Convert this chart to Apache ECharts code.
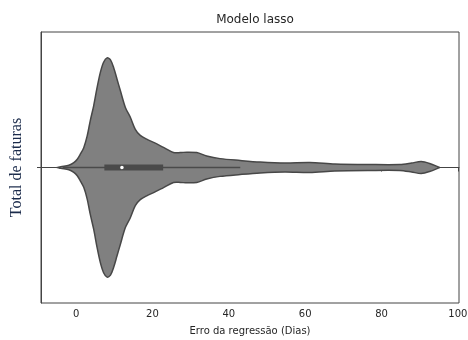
<!DOCTYPE html>
<html>
<head>
<meta charset="utf-8">
<script src="https://cdn.jsdelivr.net/npm/echarts@6/dist/echarts.min.js"></script>
<style>
  html, body { margin: 0; padding: 0; background: #fff; }
  #chart { width: 468px; height: 340px; }
</style>
</head>
<body>
<div id="chart"></div>
<script>
// violin outline: error value (days) and relative density (peak = 1)
const errValues = [-4.9, -4.0, -1.9, -0.6, 0.3, 1.1, 2.0, 2.9, 3.7, 4.6, 5.5, 6.35, 7.2, 8.1, 9.0,
  9.8, 10.7, 11.6, 12.9, 14.2, 15.5, 16.8, 18.6, 20.3, 22.9, 25.5, 27.3, 29.0, 31.6, 34.2, 37.7,
  43.0, 48.2, 54.7, 61.2, 67.8, 76.9, 84.8, 87.9, 90.4, 92.6, 95.2];
const density = [0, 0.008, 0.02, 0.044, 0.075, 0.121, 0.181, 0.288, 0.426, 0.563, 0.731, 0.868,
  0.96, 1.0, 0.982, 0.914, 0.808, 0.70, 0.548, 0.458, 0.348, 0.293, 0.256, 0.229, 0.183, 0.137,
  0.136, 0.14, 0.136, 0.105, 0.081, 0.064, 0.05, 0.041, 0.046, 0.032, 0.027, 0.027, 0.041, 0.055,
  0.037, 0];

// inner box: whisker low, q1, median, q3, whisker high
const boxStats = [-3.5, 7.4, 12.0, 22.8, 43.0];

const xTicks = [0, 20, 40, 60, 80, 100];

const chart = echarts.init(document.getElementById("chart"));

const axisColor = "#444";
const textColor = "#262626";

chart.setOption({
  animation: false,
  title: {
    text: "Modelo lasso",
    left: 250,
    textAlign: "center",
    top: 9,
    textStyle: { fontFamily: "DejaVu Sans", fontSize: 12, fontWeight: "normal", color: textColor },
  },
  grid: {
    left: 41, right: 9, top: 32, bottom: 37,
    outerBoundsMode: "none",
    show: true, borderColor: axisColor, borderWidth: 1,
  },
  xAxis: {
    type: "value",
    min: -9.2,
    max: 100.3,
    name: "Erro da regressão (Dias)",
    nameLocation: "middle",
    nameGap: 23,
    nameTextStyle: { fontFamily: "DejaVu Sans", fontSize: 10, color: textColor },
    axisLine: { show: true, lineStyle: { color: axisColor } },
    axisTick: { show: true, length: 4, customValues: xTicks, lineStyle: { color: axisColor } },
    axisLabel: {
      customValues: xTicks,
      fontFamily: "DejaVu Sans", fontSize: 10, color: textColor, margin: 6,
    },
    splitLine: { show: false },
  },
  yAxis: {
    type: "value",
    min: -1.236,
    max: 1.236,
    name: "Total de faturas",
    nameLocation: "middle",
    nameGap: 16,
    nameRotate: 90,
    nameTextStyle: { fontFamily: "Liberation Serif", fontSize: 16, color: "#1b2b4b" },
    axisLine: { show: true, onZero: false, lineStyle: { color: axisColor } },
    axisTick: { show: true, length: 4, customValues: [0], lineStyle: { color: axisColor } },
    axisLabel: { show: false },
    splitLine: { show: false },
  },
  series: [
    {
      type: "custom",
      silent: true,
      data: [0],
      renderItem: (params, api) => {
        const upper = errValues.map((v, i) => api.coord([v, density[i]]));
        const lower = errValues.map((v, i) => api.coord([v, -density[i]])).reverse();
        return {
          type: "polygon",
          shape: { points: upper.concat(lower), smooth: 0.3 },
          style: { fill: "#808080", stroke: "#474747", lineWidth: 1.5 },
        };
      },
    },
    {
      type: "custom",
      silent: true,
      data: [boxStats],
      renderItem: (params, api) => {
        const lo = api.coord([api.value(0), 0]);
        const q1 = api.coord([api.value(1), 0]);
        const med = api.coord([api.value(2), 0]);
        const q3 = api.coord([api.value(3), 0]);
        const hi = api.coord([api.value(4), 0]);
        return {
          type: "group",
          children: [
            {
              type: "line",
              shape: { x1: lo[0], y1: lo[1], x2: hi[0], y2: hi[1] },
              style: { stroke: "#4a4a4a", lineWidth: 1.6 },
            },
            {
              type: "rect",
              shape: { x: q1[0], y: q1[1] - 3, width: q3[0] - q1[0], height: 6 },
              style: { fill: "#4a4a4a" },
            },
            {
              type: "circle",
              shape: { cx: med[0], cy: med[1], r: 1.8 },
              style: { fill: "#ffffff" },
            },
          ],
        };
      },
    },
  ],
});
</script>
</body>
</html>
